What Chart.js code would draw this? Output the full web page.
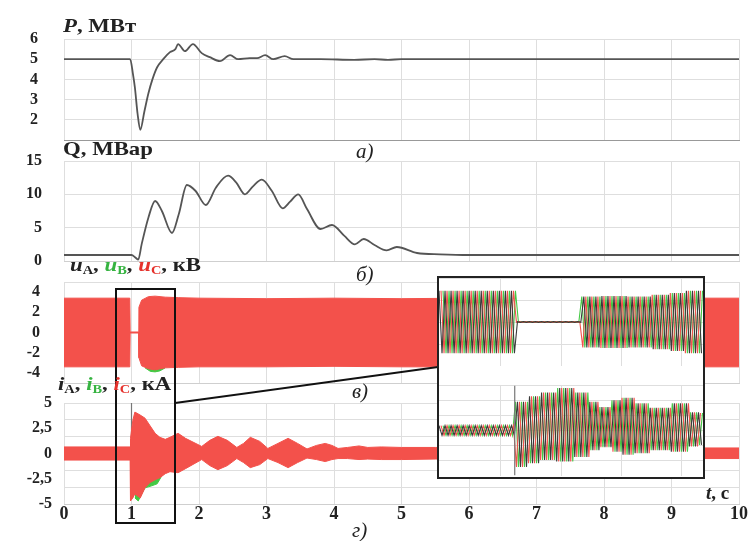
<!DOCTYPE html>
<html lang="ru">
<head>
<meta charset="UTF-8">
<title>P, Q, u, i</title>
<script src="https://cdn.jsdelivr.net/npm/chart.js"></script>
<style>
  body { margin:0; background:#fff; width:750px; height:541px; position:relative; overflow:hidden; font-family:"Liberation Serif", serif; }
  canvas, .txt, .frame, svg { position:absolute; }
  .ttl { font-weight:bold; font-size:19px; line-height:20px; color:#222; white-space:nowrap; transform-origin:left center; transform:scaleX(1.2); }
  .ttl sub { font-size:12px; vertical-align:-3px; }
  .let { font-style:italic; font-size:21px; line-height:22px; color:#222; }
  .g { color:#36b341; } .r { color:#e5322c; }
  .frame { left:437px; top:276px; width:268px; height:203px; box-sizing:border-box; border:2px solid #222; background:#fff; }
</style>
</head>
<body>
<canvas id="cP" width="750" height="117" style="left:0;top:31px"></canvas>
<canvas id="cQ" width="750" height="116" style="left:0;top:153px"></canvas>
<canvas id="cU" width="750" height="117" style="left:0;top:274px"></canvas>
<canvas id="cI" width="750" height="139" style="left:0;top:395px"></canvas>

<svg width="750" height="541" style="left:0;top:0">
  <rect x="116" y="289" width="59" height="234" fill="none" stroke="#111" stroke-width="2"/>
  <line x1="175" y1="403" x2="438" y2="367" stroke="#111" stroke-width="2"/>
</svg>
<div class="frame"></div>
<canvas id="zU" width="264" height="88" style="left:439px;top:278px"></canvas>
<canvas id="zI" width="264" height="91" style="left:439px;top:385px"></canvas>

<div class="txt ttl" style="left:63px;top:16px"><i>P</i>, МВт</div>
<div class="txt ttl" style="left:63px;top:139px">Q, МВар</div>
<div class="txt ttl" style="left:70px;top:255px"><i>u</i><sub>A</sub>, <span class="g"><i>u</i><sub>B</sub></span>, <span class="r"><i>u</i><sub>C</sub></span>, кВ</div>
<div class="txt ttl" style="left:58px;top:374px"><i>i</i><sub>A</sub>, <span class="g"><i>i</i><sub>B</sub></span>, <span class="r"><i>i</i><sub>C</sub></span>, кА</div>
<div class="txt let" style="left:356px;top:140px">а)</div>
<div class="txt let" style="left:356px;top:263px">б)</div>
<div class="txt let" style="left:352px;top:380px">в)</div>
<div class="txt let" style="left:352px;top:519px">г)</div>
<div class="txt ttl" style="left:706px;top:483px;transform:none;font-size:19px"><i>t</i>, с</div>

<script>
// time axis
const xTicks = [0, 1, 2, 3, 4, 5, 6, 7, 8, 9, 10];

// a) active power P, MW
const tP = [0, 0.98, 1.02, 1.05, 1.09, 1.13, 1.19, 1.25, 1.31, 1.38, 1.47, 1.57, 1.65, 1.69, 1.79, 1.91, 2.04, 2.16, 2.31, 2.46, 2.58, 2.75, 2.86, 2.98, 3.1, 3.27, 3.4, 3.8, 4.3, 4.6, 4.8, 5.0, 6, 7, 8, 9, 10];
const P  = [5, 5, 4.3, 3.6, 2.3, 1.5, 2.4, 3.3, 4.0, 4.6, 5.0, 5.35, 5.5, 5.75, 5.4, 5.75, 5.3, 5.1, 4.9, 5.2, 5.0, 5.05, 5.05, 5.2, 5.0, 5.15, 5.0, 5.0, 4.97, 5.0, 4.97, 5.0, 5.0, 5.0, 5.0, 5.0, 5.0];

// б) reactive power Q, MVAr
const tQ = [0, 1.0, 1.06, 1.1, 1.15, 1.25, 1.35, 1.45, 1.6, 1.7, 1.82, 1.95, 2.1, 2.25, 2.43, 2.55, 2.68, 2.8, 2.93, 3.08, 3.24, 3.35, 3.47, 3.6, 3.8, 3.97, 4.15, 4.31, 4.44, 4.6, 4.78, 4.93, 5.23, 5.57, 6, 7, 8, 9, 10];
const Q  = [0.9, 0.9, 0.5, 0.2, 2.5, 6.5, 9.0, 7.5, 4.2, 7.0, 11.4, 10.5, 8.4, 11.0, 12.8, 11.8, 10.0, 11.2, 12.2, 10.5, 7.9, 8.9, 10.0, 7.8, 4.8, 5.4, 3.8, 2.5, 3.3, 2.4, 1.6, 2.1, 1.2, 1.0, 0.9, 0.9, 0.9, 0.9, 0.9];

// в) phase voltages, kV: envelope of the dense waveforms
const tU   = [0, 0.975, 0.98, 1.105, 1.11, 1.15, 1.25, 1.35, 1.5, 1.7, 2, 3, 4, 5, 6, 7, 8, 9, 10];
const uTop = [3.4, 3.4, 0.05, 0.05, 2.5, 3.2, 3.55, 3.6, 3.5, 3.45, 3.4, 3.35, 3.4, 3.35, 3.4, 3.4, 3.35, 3.4, 3.4];
const uBot = [-3.4, -3.4, -0.05, -0.05, -2.5, -3.3, -3.6, -3.7, -3.5, -3.45, -3.4, -3.4, -3.35, -3.4, -3.4, -3.35, -3.4, -3.4, -3.4];
const tUg   = [1.2, 1.28, 1.35, 1.42, 1.5];
const ugBot = [-3.5, -3.85, -3.9, -3.8, -3.5];

// г) phase currents, kA: envelope
const tI   = [0, 0.98, 0.985, 1.02, 1.05, 1.13, 1.2, 1.27, 1.35, 1.42, 1.5, 1.57, 1.69, 1.8, 2.04, 2.16, 2.28, 2.42, 2.56, 2.66, 2.76, 2.9, 3.02, 3.17, 3.32, 3.46, 3.6, 3.74, 3.87, 3.97, 4.06, 4.2, 4.37, 4.5, 4.7, 5.0, 5.5, 6, 7, 8, 9, 10];
const iTop = [0.65, 0.65, 1.5, 3.3, 4.1, 3.8, 3.5, 2.8, 2.0, 1.6, 1.4, 1.6, 2.0, 1.5, 0.7, 1.3, 1.7, 1.3, 0.6, 1.0, 1.6, 1.2, 0.5, 1.0, 1.5, 1.0, 0.45, 0.8, 1.0, 0.8, 0.5, 0.6, 0.75, 0.6, 0.65, 0.6, 0.6, 0.6, 0.55, 0.55, 0.55, 0.55];
const iBot = [-0.65, -0.65, -4.7, -4.4, -4.0, -4.4, -3.4, -2.9, -2.6, -2.4, -2.0, -1.8, -1.9, -1.5, -0.6, -1.2, -1.6, -1.2, -0.5, -0.9, -1.4, -1.1, -0.5, -0.9, -1.4, -0.9, -0.45, -0.6, -0.8, -0.6, -0.5, -0.5, -0.6, -0.55, -0.6, -0.6, -0.55, -0.55, -0.5, -0.5, -0.5, -0.5];
const tIg   = [1.05, 1.1, 1.15, 1.2, 1.3, 1.38, 1.45, 1.5];
const igBot = [-4.4, -4.7, -4.0, -3.4, -3.2, -3.0, -2.2, -1.6];
const tSpike = [1.0, 1.0];
const iSpike = [0, 5];

// zoomed window: envelopes, one reading holds until the next
const zoomMin = 0.795, zoomMax = 1.67;
const zoomGrid = [1.0, 1.2, 1.4, 1.6];
const tZu   = [0.795, 1.05, 1.268, 1.33, 1.42, 1.5, 1.56, 1.61];
const zuAmp = [3.55, 0.04, 2.9, 2.95, 2.9, 3.1, 3.3, 3.55];
const tZi   = [0.795, 1.046, 1.09, 1.13, 1.185, 1.245, 1.294, 1.327, 1.367, 1.40, 1.443, 1.493, 1.565, 1.625, 1.658];
const ziTop = [0.65, 3.8, 4.5, 5.0, 5.6, 5.0, 3.8, 3.1, 4.0, 4.3, 3.6, 3.0, 3.6, 2.4, 2.3];
const ziBot = [-0.65, -4.8, -4.3, -3.9, -4.1, -3.5, -2.6, -2.2, -2.8, -3.2, -3.0, -2.6, -2.8, -2.1, -1.9];
const tZspike = [1.046, 1.046];
const zSpike  = [5.9, -5.9];

const RED = '#f3514b', GREEN = '#44c944', DARK = '#3a3a3a', GRID = '#dedede';
const phaseColors = [DARK, RED, GREEN];
const halfPeriod = 0.01; // 50 Hz

function pts(t, v) { return t.map((x, i) => ({x: x, y: v[i]})); }
function held(ts, vs, t) {
    let v = vs[0];
    for (let i = 0; i < ts.length; i++) if (t >= ts[i]) v = vs[i];
    return v;
}
// peaks of one phase: alternate between the upper and lower reading
function phase(ts, top, bot, shift) {
    let out = [];
    for (let k = 0; ; k++) {
        let t = zoomMin + shift + k * halfPeriod;
        if (t > zoomMax) break;
        out.push({x: t, y: k % 2 ? held(ts, bot, t) : held(ts, top, t)});
    }
    return out;
}

const font = (s) => ({family: '"Liberation Serif", serif', size: s, weight: 'bold'});

function opts(y, showX, borderColor) {
    return {
        responsive: false, animation: false, events: [],
        layout: {padding: {left: 0, right: 11, top: 8, bottom: showX ? 0 : 8}},
        plugins: {legend: {display: false}, tooltip: {enabled: false}},
        elements: {point: {radius: 0}},
        scales: {
            x: {
                type: 'linear', min: 0, max: 10,
                afterBuildTicks: s => { s.ticks = xTicks.map(v => ({value: v})); },
                afterFit: s => { s.height = showX ? 30 : 0; s.paddingLeft = 0; s.paddingRight = 0; },
                grid: {color: GRID, drawTicks: false},
                border: {color: borderColor},
                ticks: {display: showX, padding: 0, color: '#222', font: font(18), maxRotation: 0, autoSkip: false}
            },
            y: Object.assign({
                afterFit: s => { s.width = 64; s.paddingTop = 0; s.paddingBottom = 0; },
                border: {display: false}
            }, y)
        }
    };
}

function ticksAt(list) { return s => { s.ticks = list.map(v => ({value: v})); }; }

// a)
new Chart(document.getElementById('cP'), {
    type: 'line',
    data: {datasets: [{data: pts(tP, P), borderColor: '#555', borderWidth: 1.8, cubicInterpolationMode: 'monotone'}]},
    options: opts({
        min: 1, max: 6, afterBuildTicks: ticksAt([1, 2, 3, 4, 5, 6]),
        grid: {color: GRID, drawTicks: false},
        ticks: {padding: 26, autoSkip: false, color: '#222', font: font(16), callback: v => v === 1 ? '' : v}
    }, false, '#999')
});

// б)
new Chart(document.getElementById('cQ'), {
    type: 'line',
    data: {datasets: [{data: pts(tQ, Q), borderColor: '#555', borderWidth: 1.8, cubicInterpolationMode: 'monotone'}]},
    options: opts({
        min: 0, max: 15, afterBuildTicks: ticksAt([0, 5, 10, 15]),
        grid: {color: GRID, drawTicks: false},
        ticks: {padding: 22, autoSkip: false, color: '#222', font: font(16)}
    }, false, '#cfcfcf')
});

// в)
new Chart(document.getElementById('cU'), {
    type: 'line',
    data: {datasets: [
        {data: pts(tU, uTop), borderColor: RED, borderWidth: 1, backgroundColor: RED, fill: false},
        {data: pts(tU, uBot), borderColor: RED, borderWidth: 1, backgroundColor: RED, fill: '-1'},
        {data: pts(tUg, ugBot.map(() => 0)), borderColor: 'rgba(0,0,0,0)', borderWidth: 1, fill: false},
        {data: pts(tUg, ugBot), borderColor: GREEN, borderWidth: 1, backgroundColor: GREEN, fill: '-1'}
    ]},
    options: opts({
        min: -5, max: 5, afterBuildTicks: ticksAt([-5, -4, -2, 0, 2, 4, 5]),
        grid: {drawTicks: false, color: c => Math.abs(c.tick.value) === 5 ? GRID : 'rgba(0,0,0,0)'},
        ticks: {padding: 24, autoSkip: false, color: '#222', font: font(16), callback: v => Math.abs(v) === 5 ? '' : v}
    }, false, '#cfcfcf')
});

// г)
const iGridTicks = [-5, -10 / 3, -2.5, -5 / 3, 0, 5 / 3, 2.5, 10 / 3, 5];
const iLabels = [-5, -2.5, 0, 2.5, 5];
new Chart(document.getElementById('cI'), {
    type: 'line',
    data: {datasets: [
        {data: pts(tI, iTop), borderColor: RED, borderWidth: 1, backgroundColor: RED, fill: false},
        {data: pts(tI, iBot), borderColor: RED, borderWidth: 1, backgroundColor: RED, fill: '-1'},
        {data: pts(tIg, igBot.map(() => 0)), borderColor: 'rgba(0,0,0,0)', borderWidth: 1, fill: false},
        {data: pts(tIg, igBot), borderColor: GREEN, borderWidth: 1, backgroundColor: GREEN, fill: '-1'},
        {data: pts(tSpike, iSpike), borderColor: '#777', borderWidth: 1.2, fill: false}
    ]},
    options: opts({
        min: -5, max: 5, afterBuildTicks: ticksAt(iGridTicks),
        grid: {drawTicks: false, color: c => iLabels.includes(c.tick.value) && Math.abs(c.tick.value) !== 5 ? 'rgba(0,0,0,0)' : GRID},
        ticks: {padding: 12, autoSkip: false, color: '#222', font: font(16),
                callback: v => iLabels.includes(v) ? String(v).replace('.', ',') : ''}
    }, true, '#cfcfcf')
});

// zoomed window
function zoomOpts(yMin, yMax, yTicks, bottomBorder) {
    return {
        responsive: false, animation: false, events: [],
        layout: {padding: 0},
        plugins: {legend: {display: false}, tooltip: {enabled: false}},
        elements: {point: {radius: 0}, line: {borderWidth: 1.1}},
        scales: {
            x: {type: 'linear', min: zoomMin, max: zoomMax,
                afterBuildTicks: ticksAt(zoomGrid), afterFit: s => { s.height = 0; },
                grid: {color: GRID, drawTicks: false}, border: {color: bottomBorder},
                ticks: {display: false}},
            y: {min: yMin, max: yMax, afterBuildTicks: ticksAt(yTicks), afterFit: s => { s.width = 0; },
                grid: {color: GRID, drawTicks: false}, border: {display: false},
                ticks: {display: false}}
        }
    };
}

const zuBot = zuAmp.map(v => -v);
new Chart(document.getElementById('zU'), {
    type: 'line',
    data: {datasets: phaseColors.map((c, p) => ({
        data: phase(tZu, zuAmp, zuBot, p * 2 * halfPeriod / 3), borderColor: c
    }))},
    options: zoomOpts(-5, 5, [-5, -2.5, 0, 2.5, 5], '#777')
});

new Chart(document.getElementById('zI'), {
    type: 'line',
    data: {datasets: [{data: pts(tZspike, zSpike), borderColor: '#777', borderWidth: 1.2}].concat(
        phaseColors.map((c, p) => ({
            data: phase(tZi, ziTop, ziBot, p * 2 * halfPeriod / 3), borderColor: c
        })))},
    options: zoomOpts(-6, 6, [-6, -4, -2, 0, 2, 4, 6], GRID)
});
</script>
</body>
</html>
